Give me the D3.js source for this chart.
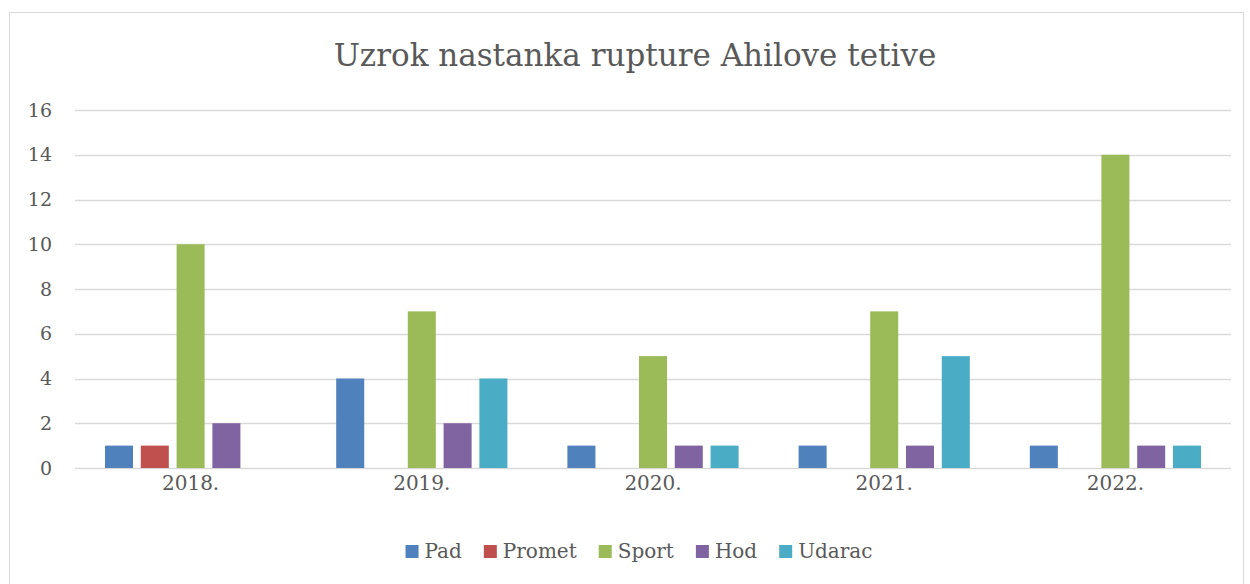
<!DOCTYPE html>
<html>
<head>
<meta charset="utf-8">
<title>Uzrok nastanka rupture Ahilove tetive</title>
<script src="https://d3js.org/d3.v7.min.js"></script>
<style>
  body { margin: 0; background: #fff; }
  text { font-family: 'DejaVu Serif', 'Liberation Serif', serif; fill: #595959; }
</style>
</head>
<body>
<script>
// data
var years = ["2018.", "2019.", "2020.", "2021.", "2022."];
var causes = ["Pad", "Promet", "Sport", "Hod", "Udarac"];
var pad    = [1, 4, 1, 1, 1];
var promet = [1, 0, 0, 0, 0];
var sport  = [10, 7, 5, 7, 14];
var hod    = [2, 2, 1, 1, 1];
var udarac = [0, 4, 1, 5, 1];
var yTicks = [0, 2, 4, 6, 8, 10, 12, 14, 16];
var colors = ["#4f81bd", "#c0504d", "#9bbb59", "#8064a2", "#4bacc6"];

var series = [pad, promet, sport, hod, udarac];

var W = 1250, H = 584;
var margin = {top: 110, right: 19, bottom: 116, left: 75};

var svg = d3.select("body").append("svg")
    .attr("width", W)
    .attr("height", H);

// chart frame
svg.append("rect")
    .attr("x", 9.5).attr("y", 12.5)
    .attr("width", 1234).attr("height", 580)
    .attr("fill", "#fff")
    .attr("stroke", "#d9d9d9")
    .attr("stroke-width", 1);

var x0 = d3.scaleBand()
    .domain(years)
    .range([margin.left, W - margin.right]);

var x1 = d3.scaleBand()
    .domain(causes)
    .range([30, x0.bandwidth() - 30])
    .paddingInner(0.217);

var y = d3.scaleLinear()
    .domain([0, 16])
    .range([H - margin.bottom, margin.top]);

// gridlines
svg.append("g").selectAll("line")
    .data(yTicks)
    .enter().append("line")
    .attr("x1", margin.left)
    .attr("x2", W - margin.right)
    .attr("y1", function(d) { return Math.round(y(d)) + 0.5; })
    .attr("y2", function(d) { return Math.round(y(d)) + 0.5; })
    .attr("stroke", "#d9d9d9")
    .attr("stroke-width", 1.3);

// y axis labels
var yAxis = svg.append("g")
    .attr("transform", "translate(" + (margin.left - 23) + ",0)")
    .call(d3.axisLeft(y).tickValues(yTicks).tickSize(0).tickPadding(0));
yAxis.select(".domain").remove();
yAxis.selectAll("text")
    .style("font-size", "19px")
    .style("font-family", "'DejaVu Serif', serif")
    .attr("fill", "#595959");

// x axis labels
var xAxis = svg.append("g")
    .attr("transform", "translate(0," + (H - margin.bottom) + ")")
    .call(d3.axisBottom(x0).tickSize(0).tickPadding(22));
xAxis.select(".domain").remove();
xAxis.selectAll("text")
    .style("font-size", "20px")
    .style("font-family", "'DejaVu Serif', serif")
    .attr("dy", "0")
    .attr("fill", "#595959");

// bars
var groups = svg.append("g").selectAll("g")
    .data(years)
    .enter().append("g")
    .attr("transform", function(d) { return "translate(" + x0(d) + ",0)"; });

groups.selectAll("rect")
    .data(function(d, i) {
        return causes.map(function(c, j) { return {cause: c, value: series[j][i], color: colors[j]}; });
    })
    .enter().append("rect")
    .filter(function(d) { return d.value > 0; })
    .attr("x", function(d) { return x1(d.cause); })
    .attr("y", function(d) { return y(d.value); })
    .attr("width", x1.bandwidth())
    .attr("height", function(d) { return y(0) - y(d.value); })
    .attr("fill", function(d) { return d.color; });

// title
svg.append("text")
    .attr("x", 635)
    .attr("y", 66)
    .attr("text-anchor", "middle")
    .style("font-size", "31px")
    .text("Uzrok nastanka rupture Ahilove tetive");

// legend
var legend = svg.append("g");
var items = legend.selectAll("g")
    .data(causes)
    .enter().append("g");
items.append("rect")
    .attr("width", 13).attr("height", 13)
    .attr("y", -13)
    .attr("fill", function(d, i) { return colors[i]; });
items.append("text")
    .attr("x", 19)
    .style("font-size", "20px")
    .text(function(d) { return d; });

var gap = 22;
var xpos = 0;
items.each(function() {
    var g = d3.select(this);
    g.attr("transform", "translate(" + xpos + ",0)");
    xpos += 19 + g.select("text").node().getComputedTextLength() + gap;
});
var total = xpos - gap;
legend.attr("transform", "translate(" + (639 - total / 2) + ",558)");
</script>
</body>
</html>
